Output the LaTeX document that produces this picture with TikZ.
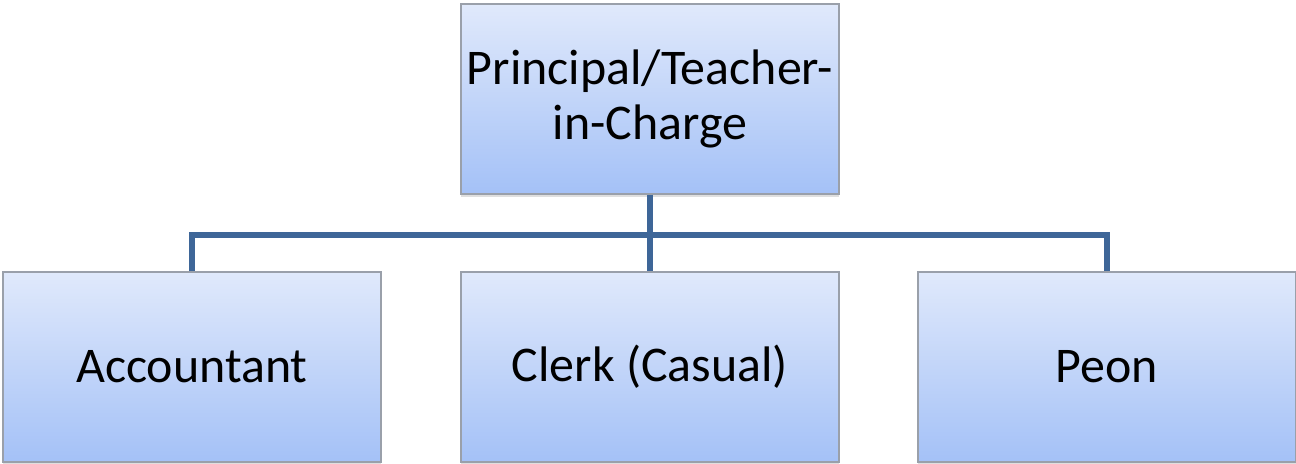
\documentclass[tikz,border=0pt]{standalone}
\usepackage{fontspec}
\setmainfont{Carlito}
\usetikzlibrary{shadows}
\definecolor{boxtop}{HTML}{E0E9FB}
\definecolor{boxbot}{HTML}{A4C1F7}
\definecolor{boxline}{HTML}{9AA0AA}
\definecolor{linkblue}{HTML}{3E6698}
\tikzset{
	post/.style={draw=boxline, line width=0.9pt, top color=boxtop, bottom color=boxbot,
		minimum width=9.45cm, minimum height=4.75cm, inner sep=0pt, align=center,
		font=\fontsize{35.5}{39}\selectfont,
		drop shadow={opacity=0.25, shadow xshift=0pt, shadow yshift=-2pt}},
	link/.style={draw=linkblue, line width=3.6pt}
}
\begin{document}
\begin{tikzpicture}[x=0.025cm, y=-0.025cm]
	\useasboundingbox (0,0) rectangle (1296,464);

	\node[post] (head) at (650,99) {Principal/Teacher-\\in-Charge};
	\node[post] (acc) at (192,367) {Accountant};
	\node[post] (clerk) at (650,367) {Clerk (Casual)};
	\node[post] (peon) at (1107,367) {Peon};

	\coordinate (bus) at (650,235);
	\draw[link] (head.south) -- (bus);
	\draw[link] (acc.north) |- (bus) -| (peon.north);
	\draw[link] (bus) -- (clerk.north);
\end{tikzpicture}
\end{document}
